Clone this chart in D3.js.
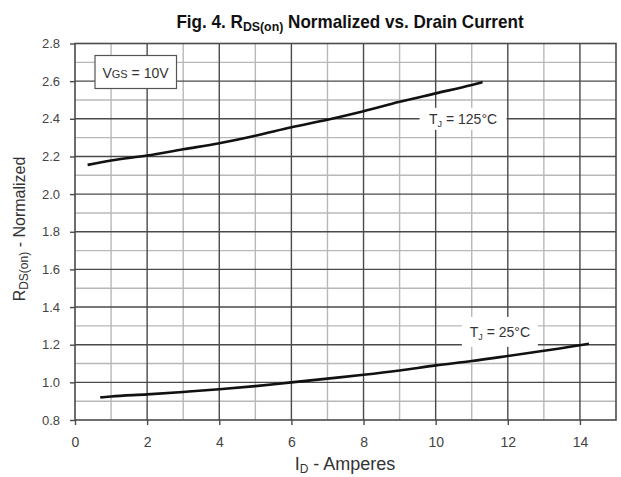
<!DOCTYPE html>
<html>
<head>
<meta charset="utf-8">
<script src="https://cdn.jsdelivr.net/npm/d3@7"></script>
<style>
  body { margin: 0; background: #fff; }
  svg { font-family: "Liberation Sans", Arial, sans-serif; }
</style>
</head>
<body>
<svg id="chart" width="621" height="477"></svg>
<script>
// data
const xTicks = [0, 2, 4, 6, 8, 10, 12, 14];
const yTicks = [0.8, 1.0, 1.2, 1.4, 1.6, 1.8, 2.0, 2.2, 2.4, 2.6, 2.8];

const id125 = [0.35, 1, 2, 3, 4, 5, 6, 7, 8, 9, 10, 11, 11.3];
const r125 = [2.155, 2.178, 2.205, 2.238, 2.27, 2.31, 2.355, 2.395, 2.44, 2.49, 2.535, 2.58, 2.595];

const id25 = [0.7, 1, 2, 3, 4, 5, 6, 7, 8, 9, 10, 11, 12, 13, 14, 14.25];
const r25 = [0.92, 0.925, 0.936, 0.949, 0.963, 0.98, 1.0, 1.02, 1.04, 1.063, 1.09, 1.113, 1.14, 1.168, 1.197, 1.205];

const svg = d3.select("#chart");
const x = d3.scaleLinear().domain([0, 15]).range([75, 616]);
const y = d3.scaleLinear().domain([0.8, 2.8]).range([420, 43.5]);

// grid: light lines every 1 A / 0.1, dark every 2 A / 0.2
const grid = svg.append("g");
grid.selectAll(".vminor")
  .data(d3.range(1, 15, 2))
  .enter().append("line")
  .attr("x1", d => x(d)).attr("x2", d => x(d))
  .attr("y1", y(0.8)).attr("y2", y(2.8))
  .attr("stroke", "#b8b8b8").attr("stroke-width", 1.4);
grid.selectAll(".hminor")
  .data(d3.range(0.9, 2.8, 0.2))
  .enter().append("line")
  .attr("x1", x(0)).attr("x2", x(15))
  .attr("y1", d => y(d)).attr("y2", d => y(d))
  .attr("stroke", "#b8b8b8").attr("stroke-width", 1.4);
grid.selectAll(".vmajor")
  .data(xTicks.slice(1))
  .enter().append("line")
  .attr("x1", d => x(d)).attr("x2", d => x(d))
  .attr("y1", y(0.8)).attr("y2", y(2.8))
  .attr("stroke", "#4a4a4a").attr("stroke-width", 1.4);
grid.selectAll(".hmajor")
  .data(yTicks.slice(1, -1))
  .enter().append("line")
  .attr("x1", x(0)).attr("x2", x(15))
  .attr("y1", d => y(d)).attr("y2", d => y(d))
  .attr("stroke", "#4a4a4a").attr("stroke-width", 1.4);

// frame
svg.append("rect")
  .attr("x", x(0)).attr("y", y(2.8))
  .attr("width", x(15) - x(0)).attr("height", y(0.8) - y(2.8))
  .attr("fill", "none").attr("stroke", "#4a4a4a").attr("stroke-width", 1.6);

// axes
const xAxis = svg.append("g")
  .attr("transform", `translate(0,${y(0.8)})`)
  .call(d3.axisBottom(x).tickValues(xTicks).tickSize(5).tickPadding(12).tickFormat(d3.format("d")));
const yAxis = svg.append("g")
  .attr("transform", `translate(${x(0)},0)`)
  .call(d3.axisLeft(y).tickValues(yTicks).tickSize(5).tickPadding(10).tickFormat(d3.format(".1f")));
[xAxis, yAxis].forEach(a => {
  a.select(".domain").remove();
  a.selectAll("line").attr("stroke", "#4a4a4a").attr("stroke-width", 1.4);
  a.selectAll("text").attr("fill", "#444")
    .style("font-family", "'Liberation Sans', Arial, sans-serif");
});
xAxis.selectAll("text").style("font-size", "14px");
yAxis.selectAll("text").style("font-size", "13px");

// curves
const line = d3.line().curve(d3.curveMonotoneX)
  .x(d => x(d[0])).y(d => y(d[1]));
svg.append("path")
  .datum(d3.zip(id125, r125))
  .attr("d", line)
  .attr("fill", "none").attr("stroke", "#111").attr("stroke-width", 2.6);
svg.append("path")
  .datum(d3.zip(id25, r25))
  .attr("d", line)
  .attr("fill", "none").attr("stroke", "#111").attr("stroke-width", 2.6);

// curve labels on white patches
function tjLabel(cx, cy, w, h, temp) {
  svg.append("rect")
    .attr("x", x(cx) - w / 2).attr("y", y(cy) - h / 2)
    .attr("width", w).attr("height", h).attr("fill", "#fff");
  const t = svg.append("text")
    .attr("x", x(cx)).attr("y", y(cy) + 5)
    .attr("text-anchor", "middle")
    .attr("fill", "#333").style("font-size", "14px");
  t.append("tspan").text("T");
  t.append("tspan").attr("dy", 3).style("font-size", "9px").text("J");
  t.append("tspan").attr("dy", -3).text(" = " + temp + "°C");
}
tjLabel(10.76, 2.4, 87, 22, 125);
tjLabel(11.78, 1.268, 76, 30, 25);

// VGS box
svg.append("rect")
  .attr("x", 95).attr("y", 55.5)
  .attr("width", 81.5).attr("height", 33)
  .attr("fill", "#fff").attr("stroke", "#555").attr("stroke-width", 1.2);
const vgs = svg.append("text")
  .attr("x", 135.5).attr("y", 78)
  .attr("text-anchor", "middle")
  .attr("fill", "#333").style("font-size", "14px");
vgs.append("tspan").text("V");
vgs.append("tspan").style("font-size", "11px").text("GS");
vgs.append("tspan").text(" = 10V");

// title
const title = svg.append("text")
  .attr("transform", "translate(350,28) scale(0.95,1)")
  .attr("text-anchor", "middle")
  .attr("fill", "#111").style("font-size", "18px").style("font-weight", "bold");
title.append("tspan").text("Fig. 4. R");
title.append("tspan").attr("dy", 3).style("font-size", "13px").text("DS(on)");
title.append("tspan").attr("dy", -3).text(" Normalized  vs. Drain Current");

// axis titles
const xt = svg.append("text")
  .attr("x", 345).attr("y", 470)
  .attr("text-anchor", "middle")
  .attr("fill", "#333").style("font-size", "18px");
xt.append("tspan").text("I");
xt.append("tspan").attr("dy", 3).style("font-size", "12px").text("D");
xt.append("tspan").attr("dy", -3).text(" - Amperes");

const yt = svg.append("text")
  .attr("transform", "translate(25,229) rotate(-90)")
  .attr("text-anchor", "middle")
  .attr("fill", "#333").style("font-size", "16px");
yt.append("tspan").text("R");
yt.append("tspan").attr("dy", 3).style("font-size", "12px").text("DS(on)");
yt.append("tspan").attr("dy", -3).text(" - Normalized");
</script>
</body>
</html>
